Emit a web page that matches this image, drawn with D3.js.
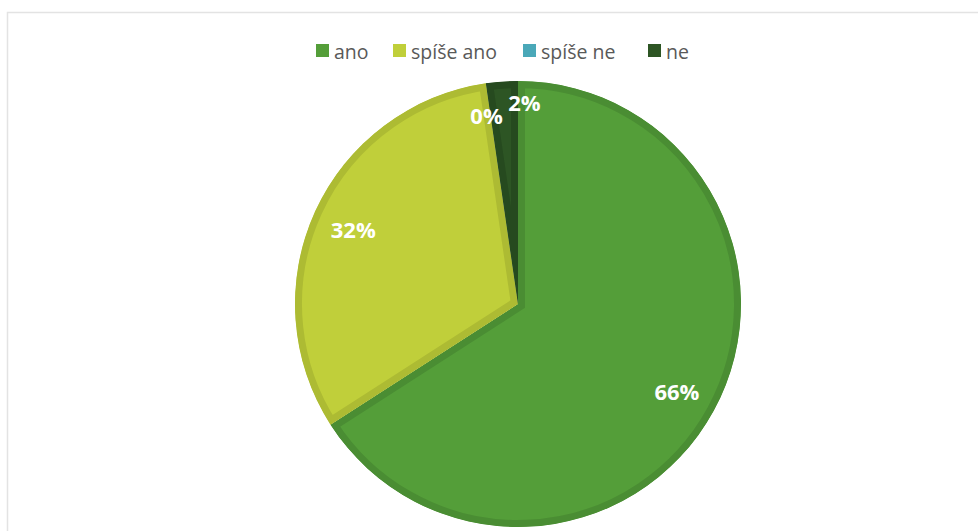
<!DOCTYPE html>
<html><head><meta charset="utf-8">
<script src="https://cdn.jsdelivr.net/npm/d3@7"></script>
<style>html,body{margin:0;padding:0;background:#fff;}svg{display:block;}</style>
</head><body>
<svg id="c" width="978" height="531"></svg>
<script>
const categories = ["ano", "spíše ano", "spíše ne", "ne"];
const values = [65.9, 31.8, 0, 2.3];
const labels = ["66%", "32%", "0%", "2%"];
const fills = ["#549E39", "#C0CF3A", "#4AA8B8", "#2D5524"];
const borders = ["#4A8D33", "#ADBB33", "#3F95A4", "#264A1F"];

const svg = d3.select("#c");
const W = 978, H = 531;
svg.append("rect").attr("x", 7.5).attr("y", 12.5).attr("width", W).attr("height", H)
  .attr("fill", "#fff").attr("stroke", "#e3e3e3").attr("stroke-width", 1.5);

const cx = 518, cy = 304, R = 223;
const pie = d3.pie().sort(null).value(d => d.v);
const data = pie(categories.map((c, i) => ({c, v: values[i], i})));
const arc = d3.arc().innerRadius(0).outerRadius(R);
const g = svg.append("g").attr("transform", `translate(${cx},${cy})`);
const defs = svg.append("defs");
data.forEach((d, k) => {
  defs.append("clipPath").attr("id", "cl" + k).append("path").attr("d", arc(d));
});
g.selectAll("path.s").data(data).join("path").attr("class", "s")
  .attr("d", arc).attr("fill", d => fills[d.data.i])
  .attr("stroke", d => borders[d.data.i]).attr("stroke-width", 14)
  .attr("clip-path", (d, k) => `url(#cl${k})`);

// labels
const lblR = [181, 181, 191, 203];
const dxs = [0, 0, -4, 21];
g.selectAll("text.l").data(data).join("text").attr("class", "l")
  .attr("x", (d, k) => { const a = (d.startAngle + d.endAngle) / 2; return Math.sin(a) * lblR[k] + dxs[k]; })
  .attr("y", (d, k) => { const a = (d.startAngle + d.endAngle) / 2; return -Math.cos(a) * lblR[k]; })
  .attr("text-anchor", "middle").attr("dominant-baseline", "central")
  .attr("fill", "#fff").attr("font-family", "'Open Sans', sans-serif")
  .attr("font-weight", "bold").attr("font-size", 22)
  .text((d, k) => labels[k]);

// legend
const lx = [316, 393, 523, 648];
const leg = svg.append("g");
categories.forEach((c, i) => {
  leg.append("rect").attr("x", lx[i]).attr("y", 44).attr("width", 13).attr("height", 13).attr("fill", fills[i]);
  leg.append("text").attr("x", lx[i] + 18).attr("y", 51).attr("dominant-baseline", "central")
    .attr("fill", "#595959").attr("font-family", "'Open Sans', sans-serif").attr("font-size", 19.5).text(c);
});
</script>
</body></html>
